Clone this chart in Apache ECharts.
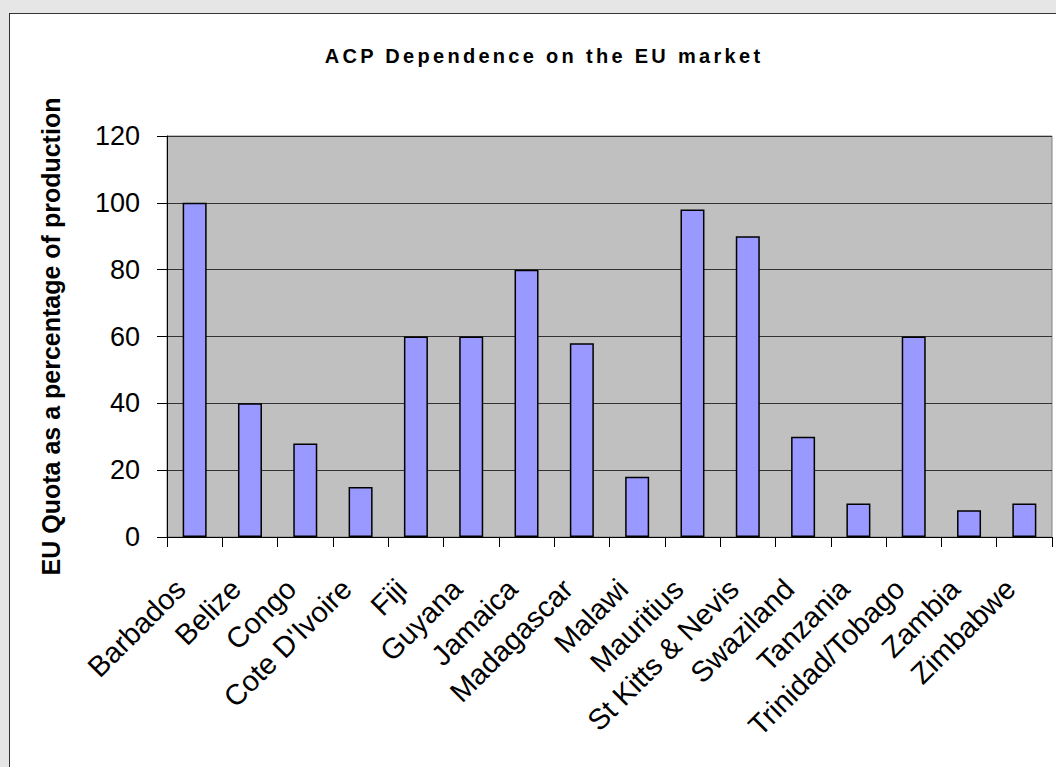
<!DOCTYPE html>
<html>
<head>
<meta charset="utf-8">
<script src="https://cdn.jsdelivr.net/npm/echarts@6/dist/echarts.min.js"></script>
<style>
  html, body { margin: 0; padding: 0; background: #e6e6e6; overflow: hidden; }
  #panel { position: absolute; left: 9px; top: 13px; width: 1100px; height: 800px; background: #fff; border: 1px solid #333; }
  #main { position: absolute; left: 0; top: 0; width: 1056px; height: 767px; }
</style>
</head>
<body>
<div id="panel"></div>
<div id="main"></div>
<script>
// countries along the x axis
var countries = [
  "Barbados", "Belize", "Congo", "Cote D'Ivoire", "Fiji", "Guyana", "Jamaica",
  "Madagascar", "Malawi", "Mauritius", "St Kitts & Nevis", "Swaziland",
  "Tanzania", "Trinidad/Tobago", "Zambia", "Zimbabwe"
];
// EU quota as % of production
var quotaPct = [100, 40, 28, 15, 60, 60, 80, 58, 18, 98, 90, 30, 10, 60, 8, 10];
var yTicks = [0, 20, 40, 60, 80, 100, 120];

var titleText = "ACP Dependence on the EU market";
var font = "'Liberation Sans', Arial, sans-serif";

var myChart = echarts.init(document.getElementById("main"), null, { renderer: "svg" });
myChart.setOption({
  backgroundColor: "transparent",
  animation: false,
  title: {
    text: titleText,
    left: 539,
    textAlign: "center",
    top: 41,
    textStyle: { fontFamily: font, fontSize: 20, fontWeight: "bold", color: "#000" }
  },
  grid: {
    left: 167, top: 136, right: 4, bottom: 230,
    show: true,
    backgroundColor: "#c0c0c0",
    borderColor: "#808080",
    borderWidth: 1
  },
  xAxis: {
    type: "category",
    data: countries,
    axisLine: { lineStyle: { color: "#000", width: 1 } },
    axisTick: { show: true, length: 10, lineStyle: { color: "#000" } },
    axisLabel: {
      interval: 0,
      rotate: 45,
      margin: 33,
      padding: [0, 20, 0, 0],
      fontFamily: font,
      fontSize: 29,
      color: "#000"
    }
  },
  yAxis: {
    type: "value",
    min: yTicks[0],
    max: yTicks[yTicks.length - 1],
    interval: 20,
    name: "EU Quota as a percentage of production",
    nameLocation: "middle",
    nameGap: 104,
    nameTextStyle: { fontFamily: font, fontSize: 25, fontWeight: "bold", color: "#000" },
    axisLine: { show: true, lineStyle: { color: "#000", width: 1 } },
    axisTick: { show: true, length: 10, lineStyle: { color: "#000" } },
    axisLabel: { margin: 27, fontFamily: font, fontSize: 27, color: "#000" },
    splitLine: { show: true, lineStyle: { color: "#333", width: 1 } }
  },
  series: [
    {
      type: "bar",
      data: quotaPct,
      barWidth: 24,
      itemStyle: { color: "#9999ff", borderColor: "#000", borderWidth: 1.5 }
    }
  ]
});

// the title in the original is spaced out a little
function spaceTitle() {
  var texts = document.querySelectorAll("#main svg text");
  texts.forEach(function (t) {
    if (t.textContent === titleText) t.style.letterSpacing = "3.3px";
  });
}
myChart.on("finished", spaceTitle);
spaceTitle();
</script>
</body>
</html>
